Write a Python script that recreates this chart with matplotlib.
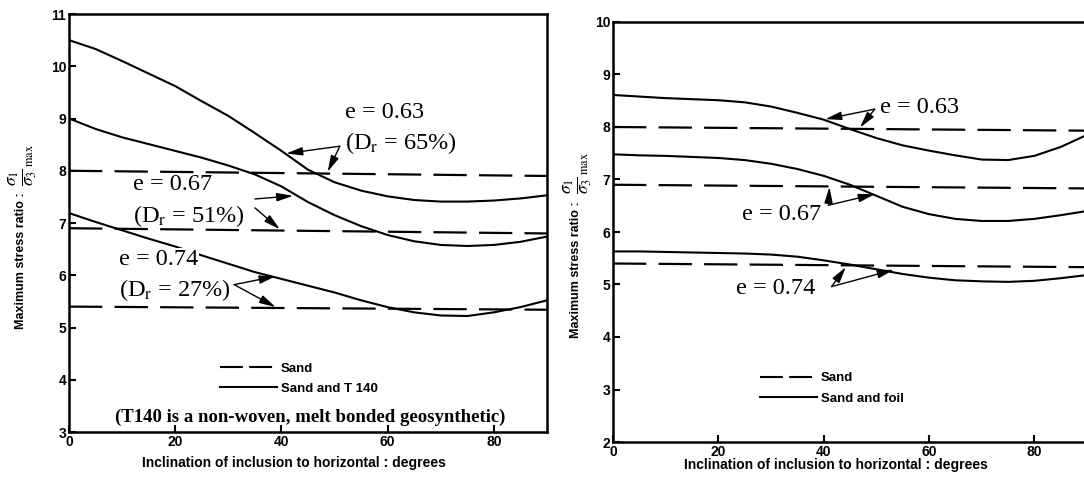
import matplotlib
matplotlib.use("Agg")
import matplotlib.pyplot as plt
from matplotlib.lines import Line2D

plt.rcParams['mathtext.fontset'] = 'stix'

# inclination of inclusion, degrees
angles = [0, 5, 10, 15, 20, 25, 30, 35, 40, 45, 50, 55, 60, 65, 70, 75, 80, 85, 90]

# left panel: sand and T140
t140_063 = [10.50, 10.33, 10.10, 9.86, 9.62, 9.33, 9.05, 8.72, 8.38, 8.02,
            7.78, 7.62, 7.51, 7.44, 7.41, 7.41, 7.43, 7.47, 7.53]
t140_067 = [9.00, 8.80, 8.64, 8.51, 8.38, 8.25, 8.10, 7.93, 7.70, 7.40,
            7.15, 6.94, 6.77, 6.65, 6.58, 6.56, 6.58, 6.64, 6.74]
t140_074 = [7.19, 7.02, 6.86, 6.70, 6.55, 6.38, 6.22, 6.06, 5.93, 5.80,
            5.67, 5.52, 5.39, 5.29, 5.23, 5.22, 5.29, 5.39, 5.52]

# right panel: sand and foil
foil_063 = [8.61, 8.58, 8.55, 8.53, 8.51, 8.47, 8.39, 8.27, 8.14, 7.96,
            7.79, 7.65, 7.55, 7.46, 7.38, 7.37, 7.45, 7.62, 7.85]
foil_067 = [7.48, 7.46, 7.45, 7.43, 7.41, 7.37, 7.30, 7.20, 7.07, 6.90,
            6.69, 6.48, 6.34, 6.25, 6.21, 6.21, 6.25, 6.32, 6.40]
foil_074 = [5.63, 5.63, 5.62, 5.61, 5.60, 5.59, 5.57, 5.53, 5.46, 5.38,
            5.29, 5.20, 5.13, 5.08, 5.06, 5.05, 5.07, 5.12, 5.18]

# sand alone (ends of the dashed lines)
sand_x = [0, 90]
sand_left = {'0.63': [8.00, 7.90], '0.67': [6.90, 6.80], '0.74': [5.40, 5.34]}
sand_right = {'0.63': [8.00, 7.93], '0.67': [6.90, 6.83], '0.74': [5.40, 5.33]}

left_yticks = [3, 4, 5, 6, 7, 8, 9, 10, 11]
right_yticks = [2, 3, 4, 5, 6, 7, 8, 9, 10]
xticks = [0, 20, 40, 60, 80]

SANS = 'Liberation Sans'
SERIF = 'Liberation Serif'
DASH = (0, (15, 5.5))
YLABEL = 'Maximum stress ratio :'
YFRAC = r'$\frac{\sigma_1}{\sigma_3}{}_{{}_{\rm max}}$'
XLABEL = 'Inclination of inclusion to horizontal : degrees'

fig = plt.figure(figsize=(10.84, 4.86), dpi=100)
ax1 = fig.add_axes([69 / 1084, 1 - 432 / 486, 478 / 1084, 418 / 486])
ax2 = fig.add_axes([613 / 1084, 1 - 442 / 486, 474 / 1084, 420 / 486])


def style_axes(ax, yticks, xlabel_y, ylabel_x):
    ax.set_xlim(0, 90)
    ax.set_ylim(yticks[0], yticks[-1])
    ax.set_xticks(xticks)
    ax.set_yticks(yticks)
    ax.tick_params(direction='in', length=5, width=1.5, pad=2, labelsize=10)
    for lab in ax.get_xticklabels() + ax.get_yticklabels():
        lab.set_fontfamily(SANS)
        lab.set_fontweight('bold')
    for sp in ax.spines.values():
        sp.set_linewidth(1.8)
    ax.set_xlabel(XLABEL, fontsize=10, fontfamily=SANS, fontweight='bold', va='center')
    ax.set_ylabel(YLABEL, fontsize=9, fontfamily=SANS, fontweight='bold', va='center')
    ax.xaxis.set_label_coords(0.47, xlabel_y)
    ax.yaxis.set_label_coords(ylabel_x, 0.41)
    # the stress ratio symbol, drawn larger than the words
    ax.text(ylabel_x + 0.004, 0.64, YFRAC, transform=ax.transAxes, rotation=90,
            fontsize=18, ha='center', va='center')


def arrow(ax, tail, head):
    ax.annotate('', xy=head, xytext=tail,
                arrowprops=dict(arrowstyle='-|>,head_width=0.18,head_length=0.7',
                                color='black', lw=1.0, shrinkA=0, shrinkB=0,
                                mutation_scale=14))


# ---- left panel
for key in sand_left:
    ax1.plot(sand_x, sand_left[key], color='black', lw=1.6, linestyle=DASH)
for ys in (t140_063, t140_067, t140_074):
    ax1.plot(angles, ys, color='black', lw=1.5)

style_axes(ax1, left_yticks, -0.075, -0.1)

txt = dict(fontsize=17.5, fontfamily=SERIF, ha='left', va='center')
ax1.text(52, 9.11, 'e = 0.63', **txt)
ax1.text(52, 8.54, r'(D$_\mathrm{r}$ = 65%)', **txt)
arrow(ax1, (51.0, 8.47), (40.9, 8.33))
arrow(ax1, (51.0, 8.47), (48.7, 7.98))

ax1.text(12.1, 7.74, 'e = 0.67', **txt)
ax1.text(12.1, 7.13, r'(D$_\mathrm{r}$ = 51%)', **txt)
arrow(ax1, (35.0, 7.46), (42.2, 7.52))
arrow(ax1, (35.0, 7.29), (39.7, 6.88))

ax1.text(9.5, 6.30, 'e = 0.74', bbox=dict(fc='white', ec='none', pad=0.5), **txt)
ax1.text(9.5, 5.72, r'(D$_\mathrm{r}$ = 27%)', **txt)
arrow(ax1, (31.1, 5.82), (38.9, 5.98))
arrow(ax1, (31.1, 5.82), (38.9, 5.39))

handles = [Line2D([], [], color='black', lw=1.5, linestyle=(0, (11, 3))),
           Line2D([], [], color='black', lw=1.5)]
leg_kw = dict(frameon=False, loc='center left', handlelength=4.3, handletextpad=0.3,
              labelspacing=0.6, borderpad=0, borderaxespad=0,
              prop=dict(family=SANS, weight='bold', size=9.5))
ax1.legend(handles, ['Sand', 'Sand and T 140'], bbox_to_anchor=(0.316, 0.128), **leg_kw)

ax1.text(45.5, 3.29, '(T140 is a non-woven, melt bonded geosynthetic)', fontsize=13.5,
         fontfamily=SERIF, fontweight='bold', ha='center', va='center')

# ---- right panel
for key in sand_right:
    ax2.plot(sand_x, sand_right[key], color='black', lw=1.6, linestyle=DASH)
for ys in (foil_063, foil_067, foil_074):
    ax2.plot(angles, ys, color='black', lw=1.5)

style_axes(ax2, right_yticks, -0.055, -0.078)

ax2.text(50.7, 8.37, 'e = 0.63', **txt)
arrow(ax2, (49.7, 8.34), (40.3, 8.15))
arrow(ax2, (49.7, 8.34), (46.9, 7.99))

ax2.text(24.4, 6.34, 'e = 0.67', **txt)
arrow(ax2, (40.9, 6.51), (41.1, 6.86))
arrow(ax2, (40.9, 6.51), (49.7, 6.72))

ax2.text(23.4, 4.93, 'e = 0.74', **txt)
arrow(ax2, (41.5, 4.96), (44.2, 5.33))
arrow(ax2, (41.5, 4.96), (53.3, 5.28))

ax2.legend(handles, ['Sand', 'Sand and foil'], bbox_to_anchor=(0.311, 0.1275), **leg_kw)

fig.savefig('out.png', dpi=100)
